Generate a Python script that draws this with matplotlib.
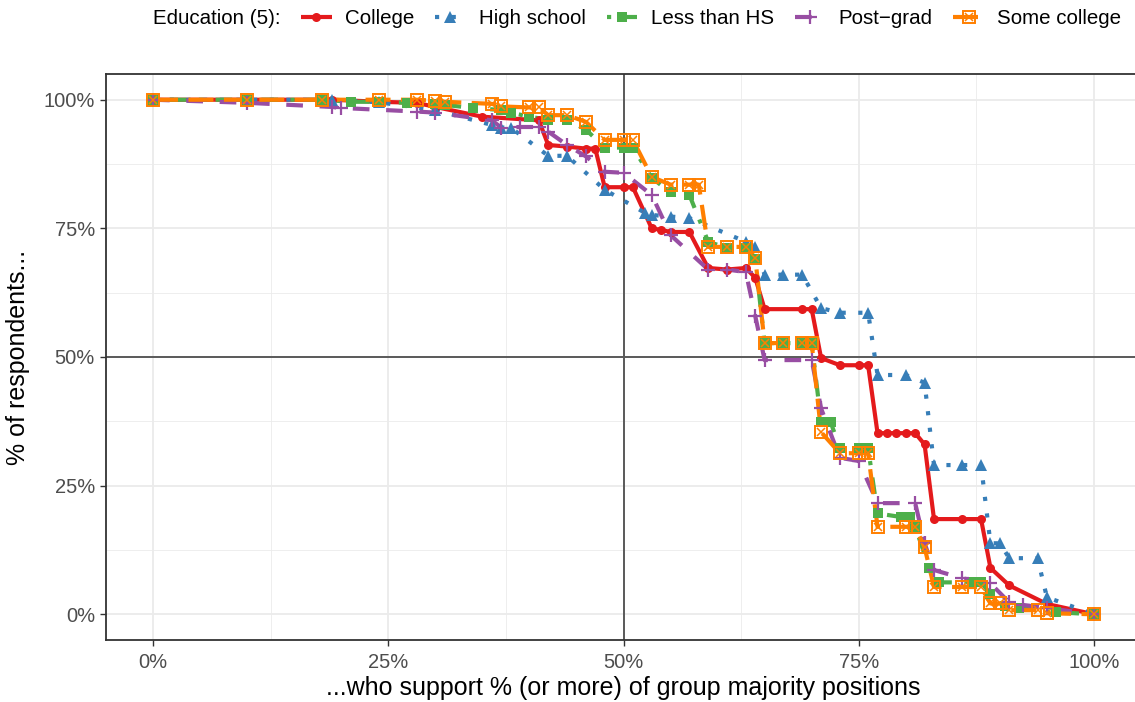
import matplotlib
matplotlib.use("Agg")
import matplotlib.pyplot as plt
from matplotlib.lines import Line2D
from matplotlib.legend_handler import HandlerTuple

plt.rcParams['font.family'] = ['Liberation Sans', 'DejaVu Sans']

# ---- data ----
college_x = [0, 10, 18, 19, 24, 28, 30, 35, 41, 42, 44, 46, 47, 48, 50, 51, 53, 54, 55, 57,
             59, 61, 63, 64, 65, 69, 70, 71, 73, 75, 76, 77, 78, 79, 80, 81, 82, 83, 86, 88,
             89, 91, 95, 100]
college_y = [100, 100, 100, 100, 99.6, 99.4, 98.6, 96.7, 96, 91.2, 90.9, 90.5, 90.5, 83, 83, 83,
             75, 74.7, 74.3, 74.3, 67.3, 67, 67.3, 65.4, 59.3, 59.3, 59.3, 49.8, 48.4, 48.4, 48.4,
             35.2, 35.2, 35.2, 35.2, 35.2, 33, 18.5, 18.5, 18.5, 9, 5.6, 2, 0]

hs_x = [0, 10, 18, 19, 24, 30, 36, 37, 38, 42, 44, 48, 52.3, 53, 55, 57, 63, 64, 65, 67, 69,
        71, 73, 76, 77, 80, 82, 83, 86, 88, 89, 90, 91, 94, 95, 100]
hs_y = [100, 100, 100, 100, 99.5, 98, 95.1, 94.6, 94.6, 89.1, 89.1, 82.5, 78, 77.6, 77.3, 77,
        72.4, 71.4, 66, 66, 66, 59.5, 58.6, 58.6, 46.5, 46.5, 45, 29, 29, 29, 13.8, 13.8, 10.9,
        10.9, 3.3, 0]

lhs_x = [0, 10, 18, 21, 24, 27, 30, 31, 34, 37, 38, 40, 42, 44, 46, 48, 50, 51, 53, 55, 57,
         59, 61, 63, 64, 65, 67, 69, 70, 71, 72, 73, 75, 76, 77, 79.5, 80.5, 81, 82.5, 83.5,
         87, 88, 89, 90.5, 92, 96, 100]
lhs_y = [100, 100, 100, 99.6, 99.6, 99.4, 99.2, 99, 98.4, 98, 97.5, 96.7, 96.1, 96.1, 94.2,
         90.7, 90.7, 90.7, 84.8, 82, 81.5, 72.4, 71.2, 71.2, 69, 52.7, 52.7, 52.7, 52.7, 37.4,
         37.4, 32.3, 32.3, 32.3, 19.6, 18.9, 18.9, 17, 9, 6.2, 6.2, 6.2, 4, 1.6, 1.2, 0.4, 0]

pg_x = [0, 10, 19, 20, 28, 30, 36, 37, 39, 41, 42, 44, 46, 48, 50, 53, 55, 59, 61, 63, 64,
        65, 70, 71, 73, 75, 77, 81, 82, 83, 86, 89, 91, 92.5, 95, 100]
pg_y = [100, 99.4, 98.6, 98.4, 97.7, 97.5, 96, 94.6, 94.7, 94.7, 93.8, 91.2, 89, 86, 85.8,
        81.5, 73.7, 67, 67, 66.5, 58, 49.4, 49.4, 40, 30.4, 29.8, 21.6, 21.6, 13.8, 8.6, 7, 6,
        2.3, 1.8, 1.2, 0]

sc_x = [0, 10, 18, 24, 28, 30, 31, 36, 37, 40, 41, 42, 44, 46, 48, 50, 51, 53, 55, 57, 58,
        59, 61, 63, 64, 65, 67, 69, 70, 71, 73, 75, 76, 77, 80, 81, 82, 83, 86, 88, 89, 90,
        91, 94, 95, 100]
sc_y = [100, 100, 100, 100, 100, 99.8, 99.6, 99.2, 98.7, 98.5, 98.5, 97, 97, 95.7, 92.2, 92.2,
        92.2, 85, 83.5, 83.5, 83.5, 71.4, 71.4, 71.4, 69.3, 52.7, 52.7, 52.7, 52.7, 35.4, 31.3,
        31.3, 31.3, 17, 17, 17, 13, 5.3, 5.3, 5.3, 2.1, 2.1, 0.8, 0.8, 0.2, 0]

labels = ["College", "High school", "Less than HS", "Post\u2212grad", "Some college"]
x_ticks = [0, 25, 50, 75, 100]
tick_labels = ["0%", "25%", "50%", "75%", "100%"]

# ---- styles ----
LW = 3.0
series = [
    dict(x=college_x, y=college_y, color="#E41A1C", ls="-", marker="o", ms=6.5, mfc="#E41A1C", mew=0),
    dict(x=hs_x, y=hs_y, color="#377EB8", ls=(0, (1, 3)), marker="^", ms=8.5, mfc="#377EB8", mew=0),
    dict(x=lhs_x, y=lhs_y, color="#4DAF4A", ls=(0, (1, 3, 4, 3)), marker="s", ms=7, mfc="#4DAF4A", mew=0),
    dict(x=pg_x, y=pg_y, color="#984EA3", ls=(0, (4, 4)), marker="+", ms=10, mfc="none", mew=1.6),
    dict(x=sc_x, y=sc_y, color="#FF7F00", ls=(0, (6, 2.5)), marker="s", ms=8, mfc="none", mew=1.4),
]

fig = plt.figure(figsize=(11.35, 7.02), dpi=100)
W, H = 1135, 702
ax = fig.add_axes([106 / W, (H - 640) / H, 1035 / W, (640 - 74) / H])

# grid
for v in [12.5, 37.5, 62.5, 87.5]:
    ax.axvline(v, color="#EBEBEB", lw=0.6, zorder=0)
    ax.axhline(v, color="#EBEBEB", lw=0.6, zorder=0)
for v in x_ticks:
    ax.axvline(v, color="#EBEBEB", lw=1.3, zorder=0)
    ax.axhline(v, color="#EBEBEB", lw=1.3, zorder=0)
ax.axvline(50, color="#5A5A5A", lw=1.4, zorder=1)
ax.axhline(50, color="#5A5A5A", lw=1.4, zorder=1)

# lines first
for s in series:
    ax.plot(s["x"], s["y"], color=s["color"], lw=LW, linestyle=s["ls"],
            solid_capstyle="butt", dash_capstyle="butt", zorder=2)
# then points
for s in series:
    ax.plot(s["x"], s["y"], color=s["color"], lw=0, marker=s["marker"], ms=s["ms"],
            mfc=s["mfc"], mec=s["color"], mew=s["mew"], zorder=3)
# cross inside orange squares
ax.plot(sc_x, sc_y, lw=0, marker="x", ms=6, mec="#FF7F00", mew=1.1, zorder=3)

ax.set_xlim(-5, 105)
ax.set_ylim(-5, 105)
ax.set_xticks(x_ticks)
ax.set_xticklabels(tick_labels)
ax.set_yticks(x_ticks)
ax.set_yticklabels(tick_labels)
ax.tick_params(axis="both", labelsize=14.5, colors="#333333", length=4, width=1.0)
ax.tick_params(axis="x", pad=5)
ax.tick_params(axis="y", pad=4)
ax.tick_params(axis="both", labelcolor="#4D4D4D")
for sp in ax.spines.values():
    sp.set_color("#333333")
    sp.set_linewidth(1.3)
ax.set_xlabel("...who support % (or more) of group majority positions", fontsize=18, labelpad=3)
ax.set_ylabel("% of respondents...", fontsize=18, labelpad=10)

# legend
handles = []
for i, s in enumerate(series):
    h = Line2D([], [], color=s["color"], lw=LW, linestyle=s["ls"], marker=s["marker"],
               ms=s["ms"], mfc=s["mfc"], mec=s["color"], mew=s["mew"],
               solid_capstyle="butt", dash_capstyle="butt")
    if i == 4:
        hx = Line2D([], [], lw=0, marker="x", ms=6, mec=s["color"], mew=1.1)
        h = (h, hx)
    handles.append(h)

fig.text(153 / W, 1 - 19 / H, "Education (5):", fontsize=14.8, va="center", ha="left")
fig.legend(handles, labels, loc="center left", bbox_to_anchor=(301 / W, 1 - 19 / H),
           ncol=5, frameon=False, fontsize=14.8, handlelength=1.5, handletextpad=0.65,
           columnspacing=1.0, borderpad=0, borderaxespad=0,
           handler_map={tuple: HandlerTuple(ndivide=1)})

fig.savefig("out.png", dpi=100)
